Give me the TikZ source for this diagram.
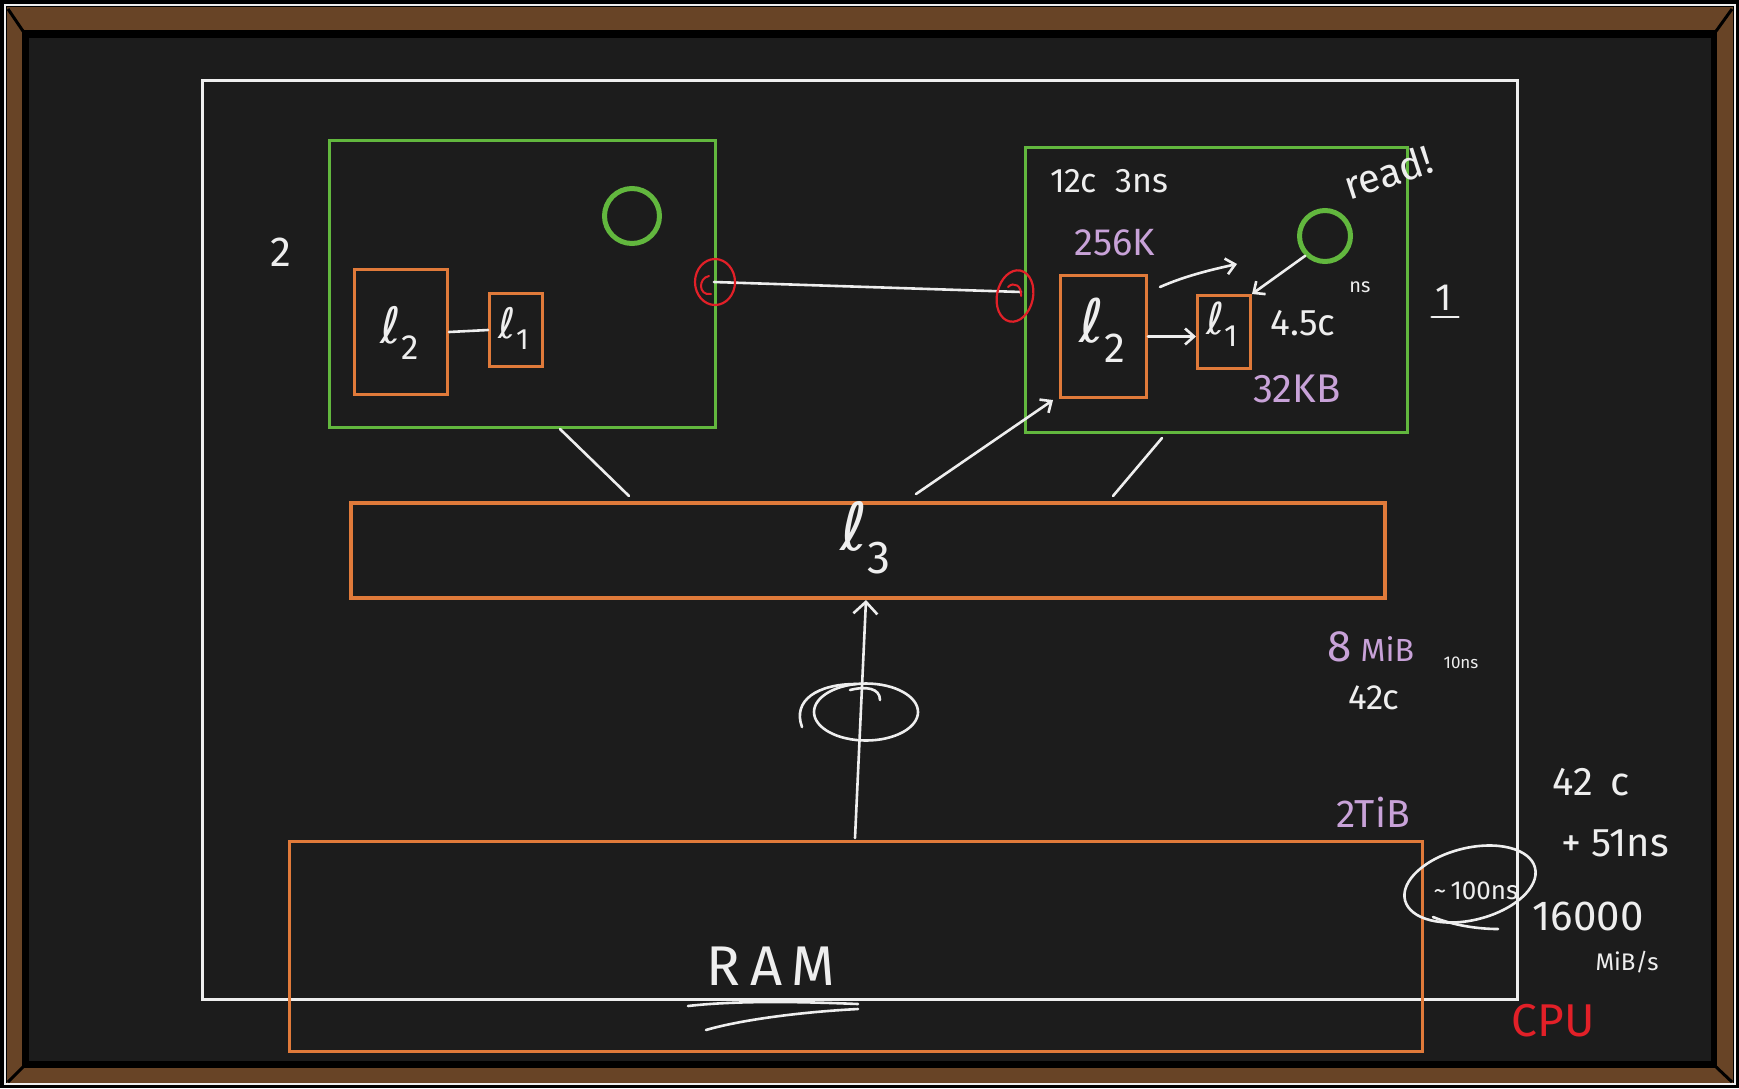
\documentclass[tikz,border=0pt]{standalone}
\usepackage{fontspec}
\setmainfont{Fira Sans}
\newfontfamily\ellfont{DejaVu Sans}
\usetikzlibrary{arrows.meta,shapes.geometric}
\definecolor{board}{RGB}{28,28,28}
\definecolor{wood}{RGB}{104,68,38}
\definecolor{chalk}{RGB}{238,238,238}
\definecolor{cgreen}{RGB}{98,183,62}
\definecolor{corange}{RGB}{224,122,58}
\definecolor{cpurple}{RGB}{200,162,216}
\definecolor{cred}{RGB}{226,32,40}
\newcommand{\fs}[1]{\fontsize{#1}{#1}\selectfont}
\newcommand{\Ell}[1]{{\ellfont ℓ}\textsubscript{#1}}
\begin{document}
\begin{tikzpicture}[x=1pt,y=-1pt,
  box/.style={draw, line width=3pt, inner sep=0pt, anchor=north west},
  cpubox/.style={box, draw=chalk},
  core/.style={box, draw=cgreen},
  cache/.style={box, draw=corange},
  chalkline/.style={draw=chalk, line width=2.6pt, line cap=round, line join=round},
  arrowtip/.style={-{Straight Barb[length=9pt,width=16pt]}},
  bigtip/.style={-{Straight Barb[length=12pt,width=24pt]}},
  ring/.style={circle, draw=cgreen, line width=5pt, inner sep=0pt},
  redloop/.style={ellipse, draw=cred, line width=2.2pt, inner sep=0pt},
  hand/.style={text=chalk, inner sep=0pt},
  purp/.style={text=cpurple, inner sep=0pt}]
% ---- frame ----
\useasboundingbox (0,0) rectangle (1739,1088);
\fill[black] (0,0) rectangle (1739,1088);
\draw[chalk, line width=1.5pt] (5,5) rectangle (1735,1084);
\fill[wood] (7,7) rectangle (1733,1083);
\fill[black] (22,30) rectangle (1717,1068);
\fill[board] (29,38) rectangle (1711,1061);
\draw[black, line width=3pt] (8,9) -- (25,34) (1732,9) -- (1714,34) (8,1082) -- (25,1065) (1732,1082) -- (1714,1065);
% ---- boxes ----
\node[cpubox, minimum width=1315pt, minimum height=919pt] (cpu) at (201,79) {};
\node[core, minimum width=386pt, minimum height=287pt] (core2) at (328,139) {};
\node[core, minimum width=382pt, minimum height=285pt] (core1) at (1024,146) {};
\node[cache, minimum width=93pt, minimum height=125pt] (l2a) at (353,268) {};
\node[cache, minimum width=53pt, minimum height=73pt] (l1a) at (488,292) {};
\node[cache, minimum width=86pt, minimum height=122pt] (l2b) at (1059,274) {};
\node[cache, minimum width=53pt, minimum height=73pt] (l1b) at (1196,294) {};
\node[cache, line width=3.5pt, minimum width=1034pt, minimum height=95pt] (l3) at (349,501) {};
\node[cache, minimum width=1133pt, minimum height=210pt] (ram) at (288,840) {};
% ---- rings ----
\node[ring, minimum size=55pt] (ring2) at (632,216) {};
\node[ring, minimum size=51pt] (ring1) at (1325,236) {};
% ---- cache labels ----
\node[hand, font=\fs{50}] (tl2a) at (400,333) {\Ell{2}};
\node[hand, font=\fs{42}] (tl1a) at (514,328) {\Ell{1}};
\node[hand, font=\fs{60}] (tl2b) at (1103,330) {\Ell{2}};
\node[hand, font=\fs{44}] (tl1b) at (1222,324) {\Ell{1}};
\node[hand, font=\fs{66}] (tl3) at (866,538) {\Ell{3}};
% ---- connectors ----
\draw[chalkline] (l2a.east) -- (l1a.west);
\coordinate (lk2) at (714,282);
\coordinate (lk1) at (1021,292);
\draw[chalkline] (lk2) -- (lk1);
\node[redloop, minimum width=40pt, minimum height=46pt] (e2) at (715,282) {};
\node[redloop, minimum width=36pt, minimum height=52pt, rotate=-12] (e1) at (1015,296) {};
\draw[cred, line width=2pt, line cap=round] (709,276) .. controls (698,278) and (698,296) .. (711,294);
\draw[cred, line width=2pt, line cap=round] (1008,287) .. controls (1014,281) and (1022,286) .. (1021,296);
\coordinate (a1) at (560,429);
\coordinate (a2) at (629,496);
\draw[chalkline] (a1) -- (a2);
\coordinate (b1) at (916,494);
\coordinate (b2) at (1053,400);
\draw[chalkline, arrowtip] (b1) -- (b2);
\coordinate (c1) at (1162,438);
\coordinate (c2) at (1113,496);
\draw[chalkline] (c1) -- (c2);
\coordinate (r1) at (855,838);
\coordinate (r2) at (866,600);
\draw[chalkline, bigtip] (r1) -- (r2);
\node[ellipse, draw=chalk, line width=2.6pt, minimum width=104pt, minimum height=57pt, inner sep=0pt] (swirl) at (866,712) {};
\draw[chalkline] (802,727) .. controls (792,700) and (818,684) .. (856,684);
\draw[chalkline] (880,700) .. controls (880,688) and (866,686) .. (850,690);
% right core arrows
\draw[chalkline, arrowtip] (l2b.east) -- (l1b.west |- l2b.east);
\coordinate (u1) at (1160,287);
\coordinate (u2) at (1237,264);
\draw[chalkline, arrowtip] (u1) .. controls (1185,276) and (1210,270) .. (u2);
\draw[chalkline, arrowtip] (ring1.south west) -- (l1b.north east);
% ---- texts ----
\node[hand, font=\fs{42}] (t2) at (281,252) {2};
\node[hand, font=\fs{38}] (t1) at (1444,298) {1};
\draw[chalkline] ([yshift=-6pt,xshift=-4pt]t1.south west) -- ([yshift=-6pt,xshift=6pt]t1.south east);
\node[hand, font=\fs{34}] (t12c) at (1109,181) {12c\ \ 3ns};
\node[purp, font=\fs{38}] (t256) at (1115,243) {256K};
\node[hand, font=\fs{40}, rotate=18] (tread) at (1388,172) {read!};
\node[hand, font=\fs{37}] (t45) at (1303,323) {4.5c};
\node[hand, font=\fs{20}] (tns) at (1360,287) {ns};
\node[purp, font=\fs{40}] (t32) at (1297,389) {32KB};
\node[purp, font=\fs{32}] (t8m) at (1371,647) {{\fs{44}8} MiB};
\node[hand, font=\fs{17}] (t10) at (1461,663) {10ns};
\node[hand, font=\fs{35}] (t42a) at (1374,698) {42c};
\node[purp, font=\fs{39}] (t2t) at (1373,812) {2TiB};
\node[hand, font=\fs{40}] (t42b) at (1591,782) {42\,\ c};
\node[hand, font=\fs{40}] (t51) at (1615,843) {+ 51ns};
\node[hand, font=\fs{42}] (t16) at (1588,916) {16000};
\node[hand, font=\fs{24}] (tmib) at (1627,962) {MiB/s};
\node[text=cred, inner sep=0pt, font=\fs{46}] (tcpu) at (1553,1021) {CPU};
\node[hand, font=\fs{26}] (t100) at (1476,891) {\textasciitilde\,100ns};
\node[ellipse, draw=chalk, line width=2.6pt, minimum width=134pt, minimum height=72pt, inner sep=0pt, rotate=14] (e100) at (1470,884) {};
\draw[chalkline] (1433,917) .. controls (1455,926) and (1480,929) .. (1498,929);
\node[hand, font=\fs{56}] (tram) at (771,966) {R\,A\,M};
\draw[chalkline] (688,1006) .. controls (740,1000) and (810,1002) .. (858,1004);
\draw[chalkline] (858,1009) .. controls (800,1012) and (740,1020) .. (706,1030);
\end{tikzpicture}
\end{document}
